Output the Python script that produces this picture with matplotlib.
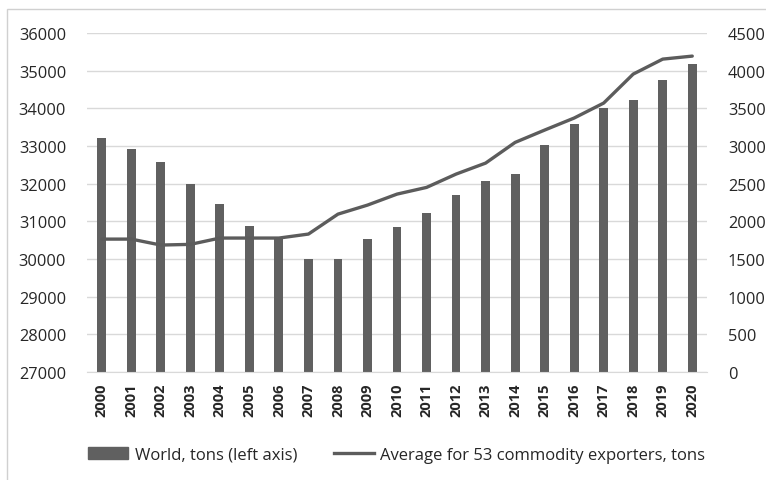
import matplotlib.pyplot as plt
from matplotlib.patches import Rectangle
from matplotlib.lines import Line2D

plt.rcParams['font.family'] = ['Open Sans', 'DejaVu Sans']

years = [str(y) for y in range(2000, 2021)]
world_tons = [33210, 32920, 32570, 31990, 31460, 30870, 30530, 30010, 30010, 30530,
              30850, 31220, 31700, 32070, 32250, 33020, 33580, 34010, 34220, 34750, 35180]
avg_53 = [1763, 1763, 1684, 1693, 1777, 1777, 1777, 1830, 2095, 2215,
          2361, 2450, 2627, 2773, 3048, 3212, 3372, 3571, 3956, 4155, 4195]

left_ticks = list(range(27000, 36001, 1000))
right_ticks = list(range(0, 4501, 500))

bar_col = '#606060'
line_col = '#5c5c5c'
grid_col = '#d9d9d9'
txt_col = '#262626'

fig = plt.figure(figsize=(7.66, 4.81), dpi=100)
ax = fig.add_axes([0.1136, 0.225, 0.8094, 0.704])
x = range(len(years))
ax.bar(x, world_tons, width=0.3, color=bar_col, zorder=2)
ax.set_ylim(27000, 36000)
ax.set_xlim(-0.5, len(years) - 0.5)
ax.set_yticks(left_ticks)
ax.set_yticklabels([str(t) for t in left_ticks])
ax.set_xticks(list(x))
ax.set_xticklabels(years, rotation=90, fontweight='bold')
ax.grid(axis='y', color=grid_col, linewidth=1, zorder=0)
for s in ['top', 'left', 'right']:
    ax.spines[s].set_visible(False)
ax.spines['bottom'].set_color(grid_col)
ax.tick_params(axis='y', length=0, pad=15, labelsize=11.8, colors=txt_col)
ax.tick_params(axis='x', length=0, pad=8, labelsize=10.5, colors=txt_col)

ax2 = ax.twinx()
ax2.plot(x, avg_53, color=line_col, linewidth=2.4, solid_capstyle='round', zorder=3)
ax2.set_ylim(0, 4500)
ax2.set_yticks(right_ticks)
ax2.set_yticklabels([str(t) for t in right_ticks])
for s in ax2.spines.values():
    s.set_visible(False)
ax2.tick_params(axis='y', length=0, pad=15, labelsize=11.8, colors=txt_col)

handles = [Rectangle((0, 0), 1, 1, color=bar_col),
           Line2D([0], [0], color=line_col, linewidth=2.4)]
labels = ['World, tons (left axis)', 'Average for 53 commodity exporters, tons']
fig.legend(handles, labels, loc='center', bbox_to_anchor=(0.518, 0.052), ncol=2,
           frameon=False, fontsize=12, handlelength=2.4, handletextpad=0.4,
           columnspacing=2.2, labelcolor=txt_col)

fig.patches.append(Rectangle((0.009, -0.1), 1.2, 1.079, transform=fig.transFigure,
                             fill=False, edgecolor='#d0d0d0', linewidth=1))

fig.savefig('out.png', dpi=100)
